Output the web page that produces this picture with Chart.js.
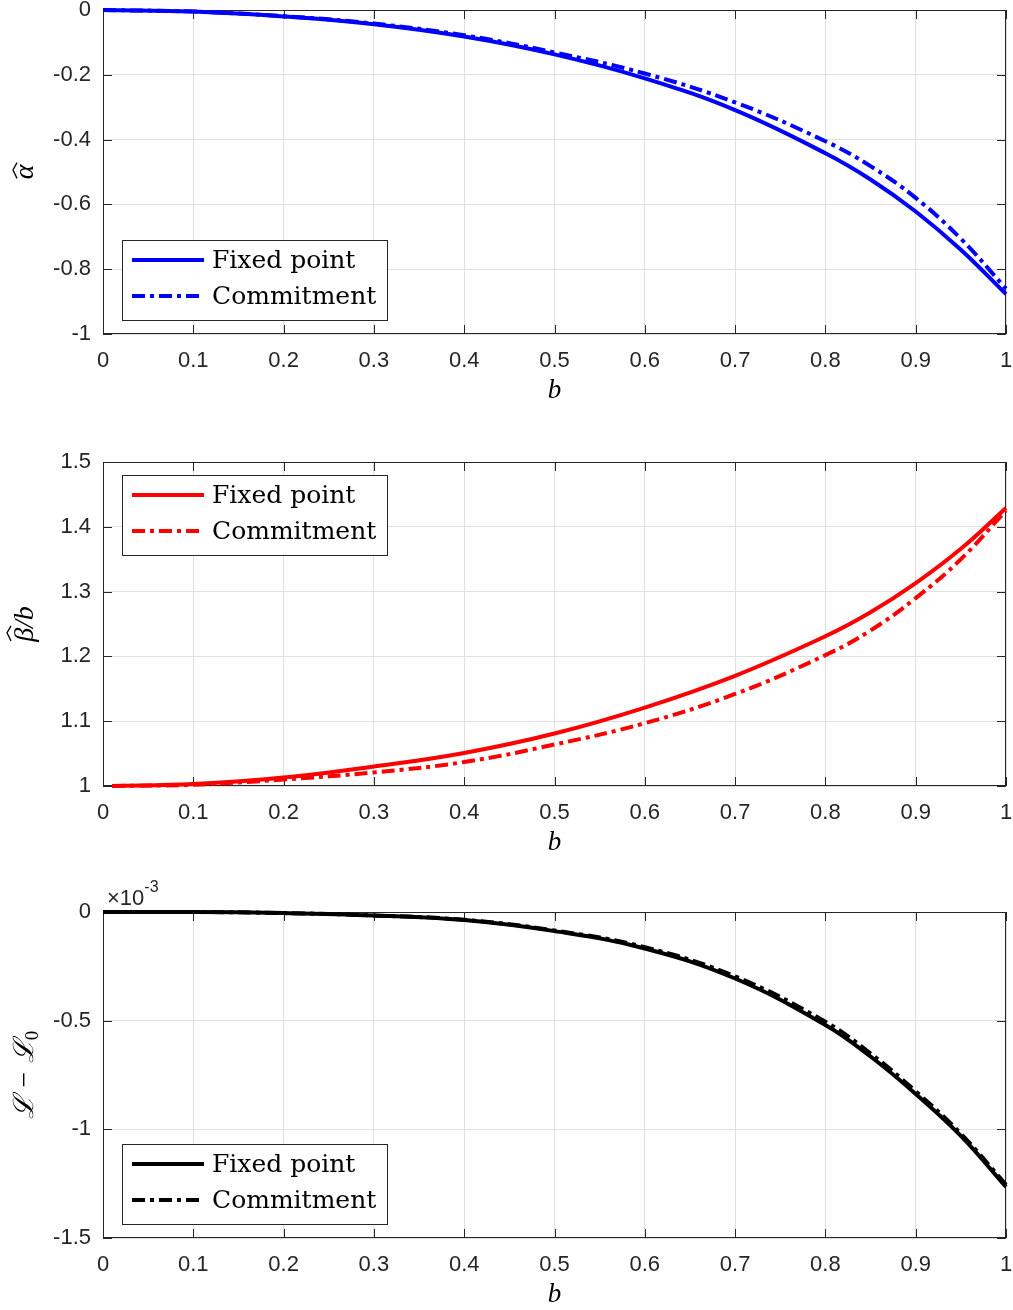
<!DOCTYPE html>
<html>
<head>
<meta charset="utf-8">
<title>Fixed point vs commitment</title>
<script src="https://cdn.jsdelivr.net/npm/chart.js@4.4.1/dist/chart.umd.min.js"></script>
<style>
  html, body { margin: 0; padding: 0; background: #fff; overflow: hidden; width: 1013px; height: 1310px; }
  .panel { position: absolute; left: 0; }
</style>
</head>
<body>
<div class="panel" style="top:0px"><canvas id="alphaChart" width="1013" height="420"></canvas></div>
<div class="panel" style="top:452px"><canvas id="betaChart" width="1013" height="420"></canvas></div>
<div class="panel" style="top:872px"><canvas id="lossChart" width="1013" height="452"></canvas></div>
<script>
// values
const bValues = [0, 0.1, 0.2, 0.3, 0.4, 0.5, 0.6, 0.7, 0.8, 0.85, 0.9, 0.95, 1];
const bValuesBeta = [0.01, 0.1, 0.2, 0.3, 0.4, 0.5, 0.6, 0.7, 0.8, 0.85, 0.9, 0.95, 1];

const alphaFixed  = [0, -0.005, -0.020, -0.044, -0.082, -0.137, -0.211, -0.309, -0.442, -0.523, -0.622, -0.740, -0.877];
const alphaCommit = [0, -0.005, -0.019, -0.042, -0.078, -0.131, -0.196, -0.285, -0.405, -0.482, -0.580, -0.706, -0.860];

const betaFixed  = [1.000, 1.003, 1.013, 1.030, 1.051, 1.081, 1.121, 1.170, 1.231, 1.268, 1.313, 1.366, 1.429];
const betaCommit = [1.000, 1.002, 1.010, 1.021, 1.037, 1.064, 1.097, 1.142, 1.202, 1.240, 1.290, 1.350, 1.425];

// in units of 1e-3
const lossFixed  = [0, 0, -0.005, -0.016, -0.037, -0.088, -0.168, -0.306, -0.520, -0.665, -0.837, -1.030, -1.265];
const lossCommit = [0, 0, -0.005, -0.016, -0.036, -0.085, -0.162, -0.296, -0.505, -0.651, -0.825, -1.020, -1.255];

const seriesNames = ['Fixed point', 'Commitment'];

const xTicks = [0, 0.1, 0.2, 0.3, 0.4, 0.5, 0.6, 0.7, 0.8, 0.9, 1];
const xTickLabels = ['0', '0.1', '0.2', '0.3', '0.4', '0.5', '0.6', '0.7', '0.8', '0.9', '1'];
const alphaTicks = [-1, -0.8, -0.6, -0.4, -0.2, 0];
const alphaTickLabels = ['-1', '-0.8', '-0.6', '-0.4', '-0.2', '0'];
const betaTicks = [1, 1.1, 1.2, 1.3, 1.4, 1.5];
const betaTickLabels = ['1', '1.1', '1.2', '1.3', '1.4', '1.5'];
const lossTicks = [-1.5, -1, -0.5, 0];
const lossTickLabels = ['-1.5', '-1', '-0.5', '0'];

// y titles as pieces: hat = widehat over the piece, sub = subscript
const alphaTitle = [{ t: '\u03b1', hat: true }];
const betaTitle = [{ t: '\u03b2', hat: true }, { t: '/b' }];
const lossTitle = [{ t: '\u2112 \u2212 \u2112' }, { t: '0', sub: true }];

const AXIS_COLOR = '#262626';
const GRID_COLOR = '#dfdfdf';
const DASH_DOT = [13, 5, 4, 5];
const SERIF = '"Liberation Serif", "Times New Roman", serif';
const TITLE_FONT = { family: SERIF, style: 'italic', size: 27 };

Chart.defaults.font.family = '"Liberation Sans", Arial, sans-serif';
Chart.defaults.color = AXIS_COLOR;

function toPoints(xs, ys) {
  return xs.map((x, i) => ({ x: x, y: ys[i] }));
}

// rotated y title with a drawn \widehat
function drawYTitle(ctx, a, pieces) {
  ctx.save();
  ctx.translate(25, (a.top + a.bottom) / 2);
  ctx.rotate(-Math.PI / 2);
  ctx.fillStyle = '#000';
  ctx.strokeStyle = '#000';
  ctx.textBaseline = 'alphabetic';
  const mainFont = 'italic 28px ' + SERIF;
  const subFont = '19px ' + SERIF;
  let total = 0;
  pieces.forEach(p => {
    ctx.font = p.sub ? subFont : mainFont;
    p.w = ctx.measureText(p.t).width;
    total += p.w;
  });
  let x = -total / 2;
  const base = 8;
  pieces.forEach(p => {
    ctx.font = p.sub ? subFont : mainFont;
    ctx.fillText(p.t, x, p.sub ? base + 5 : base);
    if (p.hat) {
      const m = ctx.measureText(p.t);
      const topY = base - m.actualBoundingBoxAscent - 3;
      ctx.beginPath();
      ctx.lineWidth = 1.3;
      ctx.moveTo(x + 1, topY);
      ctx.lineTo(x + p.w / 2 + 2, topY - 4);
      ctx.lineTo(x + p.w + 2, topY);
      ctx.stroke();
    }
    x += p.w;
  });
  ctx.restore();
}

// box, inward ticks and legend like the original figure
const matlabAxes = {
  id: 'matlabAxes',
  beforeDatasetsDraw(chart) {
    const { ctx, chartArea: a, scales } = chart;
    ctx.save();
    ctx.strokeStyle = AXIS_COLOR;
    ctx.lineWidth = 1;
    ctx.strokeRect(a.left + 0.5, a.top + 0.5, a.right - a.left - 1, a.bottom - a.top - 1);
    const len = 9;
    ctx.beginPath();
    scales.x.ticks.forEach(t => {
      const px = Math.round(scales.x.getPixelForValue(t.value)) + 0.5;
      ctx.moveTo(px, a.bottom); ctx.lineTo(px, a.bottom - len);
      ctx.moveTo(px, a.top); ctx.lineTo(px, a.top + len);
    });
    scales.y.ticks.forEach(t => {
      const py = Math.round(scales.y.getPixelForValue(t.value)) + 0.5;
      ctx.moveTo(a.left, py); ctx.lineTo(a.left + len, py);
      ctx.moveTo(a.right, py); ctx.lineTo(a.right - len, py);
    });
    ctx.stroke();
    ctx.restore();
  },
  afterDraw(chart, args, opts) {
    const { ctx, chartArea: a } = chart;
    drawYTitle(ctx, a, opts.yTitle);
    ctx.save();
    // legend
    const w = 265, h = 80;
    const left = a.left + 19;
    const top = opts.legendPos === 'upper' ? a.top + 13 : a.bottom - 94;
    ctx.fillStyle = '#fff';
    ctx.fillRect(left, top, w, h);
    ctx.strokeStyle = AXIS_COLOR;
    ctx.lineWidth = 1;
    ctx.strokeRect(left + 0.5, top + 0.5, w, h);
    chart.data.datasets.forEach((ds, i) => {
      const y = top + 20 + i * 36;
      ctx.beginPath();
      ctx.strokeStyle = ds.borderColor;
      ctx.lineWidth = ds.borderWidth;
      ctx.setLineDash(ds.borderDash || []);
      ctx.moveTo(left + 10, y);
      ctx.lineTo(left + 82, y);
      ctx.stroke();
      ctx.setLineDash([]);
      ctx.fillStyle = '#000';
      ctx.font = '25px "DejaVu Serif", serif';
      ctx.textBaseline = 'middle';
      ctx.textAlign = 'left';
      ctx.fillText(ds.label, left + 90, y + 1);
    });
    // exponent label
    if (opts.exponent) {
      ctx.fillStyle = AXIS_COLOR;
      ctx.textBaseline = 'alphabetic';
      ctx.font = '22px "Liberation Sans", Arial, sans-serif';
      ctx.fillText('\u00d710', a.left + 4, a.top - 7);
      const tw = ctx.measureText('\u00d710').width;
      ctx.font = '16px "Liberation Sans", Arial, sans-serif';
      ctx.fillText(opts.exponent, a.left + 4 + tw, a.top - 20);
    }
    ctx.restore();
  }
};

function makeChart(id, cfg) {
  const ctx = document.getElementById(id).getContext('2d');
  return new Chart(ctx, {
    type: 'line',
    data: {
      datasets: [{
        label: seriesNames[0],
        data: toPoints(cfg.xs, cfg.fixed),
        borderColor: cfg.color,
        borderWidth: 4,
        pointRadius: 0,
        fill: false,
        tension: 0.4,
        clip: 6
      }, {
        label: seriesNames[1],
        data: toPoints(cfg.xs, cfg.commit),
        borderColor: cfg.color,
        borderWidth: 4,
        borderDash: DASH_DOT,
        pointRadius: 0,
        fill: false,
        tension: 0.4,
        clip: 6
      }]
    },
    options: {
      responsive: false,
      animation: false,
      events: [],
      layout: { padding: { top: cfg.padTop, right: 7, left: 0, bottom: 0 } },
      plugins: {
        legend: { display: false },
        tooltip: { enabled: false },
        matlabAxes: { legendPos: cfg.legendPos, exponent: cfg.exponent, yTitle: cfg.yTitle }
      },
      scales: {
        x: {
          type: 'linear',
          min: 0,
          max: 1,
          afterBuildTicks: s => { s.ticks = xTicks.map(v => ({ value: v })); },
          afterFit: s => { s.height = 86; s.paddingLeft = 0; s.paddingRight = 0; },
          ticks: {
            padding: 14,
            maxRotation: 0,
            font: { size: 22 },
            color: AXIS_COLOR,
            callback: v => xTickLabels[xTicks.indexOf(v)]
          },
          grid: { color: GRID_COLOR, drawTicks: false },
          border: { display: false },
          title: {
            display: true,
            text: 'b',
            color: '#000',
            font: TITLE_FONT,
            padding: { top: 0, bottom: 13 }
          }
        },
        y: {
          type: 'linear',
          min: cfg.yTicks[0],
          max: cfg.yTicks[cfg.yTicks.length - 1],
          afterBuildTicks: s => { s.ticks = cfg.yTicks.map(v => ({ value: v })); },
          afterFit: s => { s.width = 103; s.paddingTop = 0; s.paddingBottom = 0; },
          ticks: {
            padding: 12,
            font: { size: 22 },
            color: AXIS_COLOR,
            callback: v => cfg.yLabels[cfg.yTicks.indexOf(v)]
          },
          grid: { color: GRID_COLOR, drawTicks: false },
          border: { display: false }
        }
      }
    },
    plugins: [matlabAxes]
  });
}

makeChart('alphaChart', {
  xs: bValues, fixed: alphaFixed, commit: alphaCommit, color: '#0000ff',
  yTicks: alphaTicks, yLabels: alphaTickLabels, yTitle: alphaTitle,
  padTop: 10, legendPos: 'lower'
});

makeChart('betaChart', {
  xs: bValuesBeta, fixed: betaFixed, commit: betaCommit, color: '#ff0000',
  yTicks: betaTicks, yLabels: betaTickLabels, yTitle: betaTitle,
  padTop: 10, legendPos: 'upper'
});

makeChart('lossChart', {
  xs: bValues, fixed: lossFixed, commit: lossCommit, color: '#000000',
  yTicks: lossTicks, yLabels: lossTickLabels, yTitle: lossTitle,
  padTop: 40, legendPos: 'lower', exponent: '-3'
});
</script>
</body>
</html>
